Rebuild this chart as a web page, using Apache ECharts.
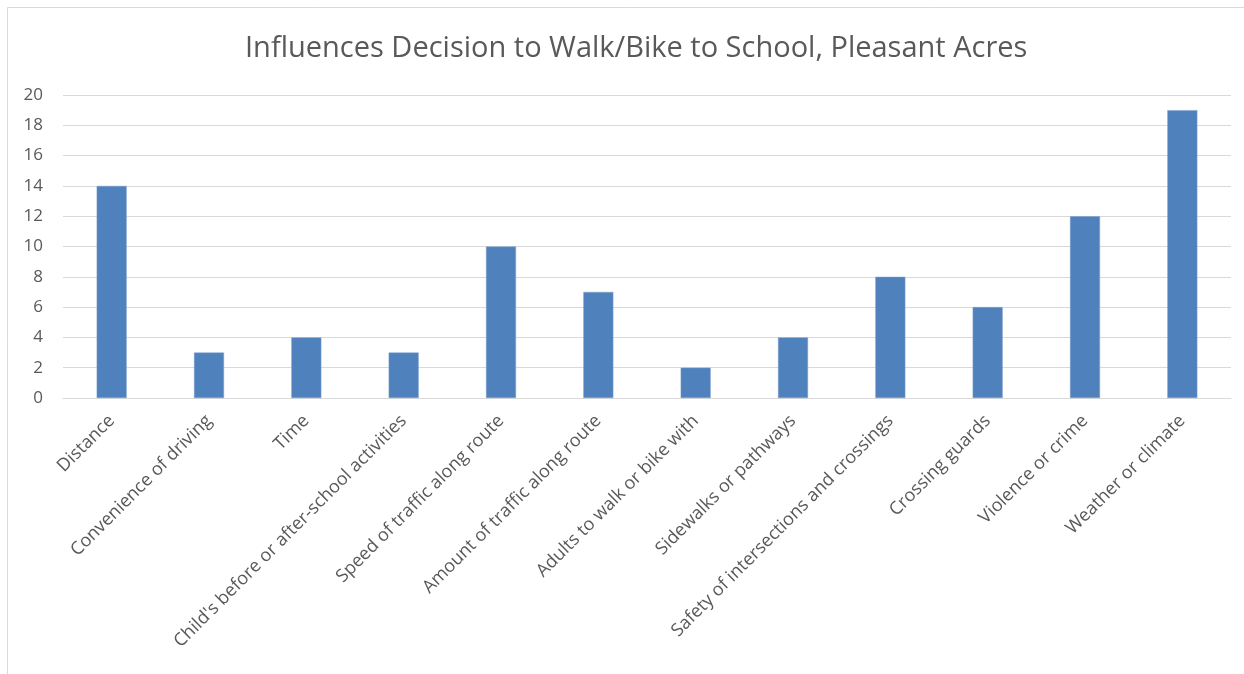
<!DOCTYPE html>
<html><head><meta charset="utf-8">
<script src="https://cdn.jsdelivr.net/npm/echarts@6/dist/echarts.min.js"></script>
<style>html,body{margin:0;padding:0;background:#fff}#c{width:1244px;height:674px}</style>
</head><body><div id="c"></div>
<script>
const titleText = "Influences Decision to Walk/Bike to School, Pleasant Acres";
const categories = ["Distance","Convenience of driving","Time","Child's before or after-school activities","Speed of traffic along route","Amount of traffic along route","Adults to walk or bike with","Sidewalks or pathways","Safety of intersections and crossings","Crossing guards","Violence or crime","Weather or climate"];
const values = [14,3,4,3,10,7,2,4,8,6,12,19];
const yTicks = {min:0,max:20,interval:2};

const chart = echarts.init(document.getElementById('c'));
chart.setOption({
  animation:false,
  backgroundColor:'#fff',
  graphic:[{type:'rect',shape:{x:7.5,y:7.5,width:1300,height:700},style:{fill:'none',stroke:'#d9d9d9',lineWidth:1},silent:true}],
  title:{text:titleText,left:240,top:29,textStyle:{fontFamily:'Open Sans',fontWeight:'normal',fontSize:29,color:'#595959'}},
  grid:{left:63,right:13,top:95,bottom:276,containLabel:false},
  xAxis:{type:'category',data:categories,
    axisLine:{lineStyle:{color:'#d9d9d9',width:1}},axisTick:{show:false},
    axisLabel:{rotate:45,interval:0,margin:20,fontFamily:'Open Sans',fontSize:18,color:'#595959'}},
  yAxis:{type:'value',min:yTicks.min,max:yTicks.max,interval:yTicks.interval,
    axisLine:{show:false},axisTick:{show:false},
    splitLine:{lineStyle:{color:'#d9d9d9',width:1}},
    axisLabel:{margin:20,fontFamily:'Open Sans',fontSize:17,color:'#595959'}},
  series:[{type:'bar',data:values,barWidth:30,itemStyle:{color:'#4f81bd',borderColor:'#7ea1d0',borderWidth:0.5}}]
});
</script></body></html>
